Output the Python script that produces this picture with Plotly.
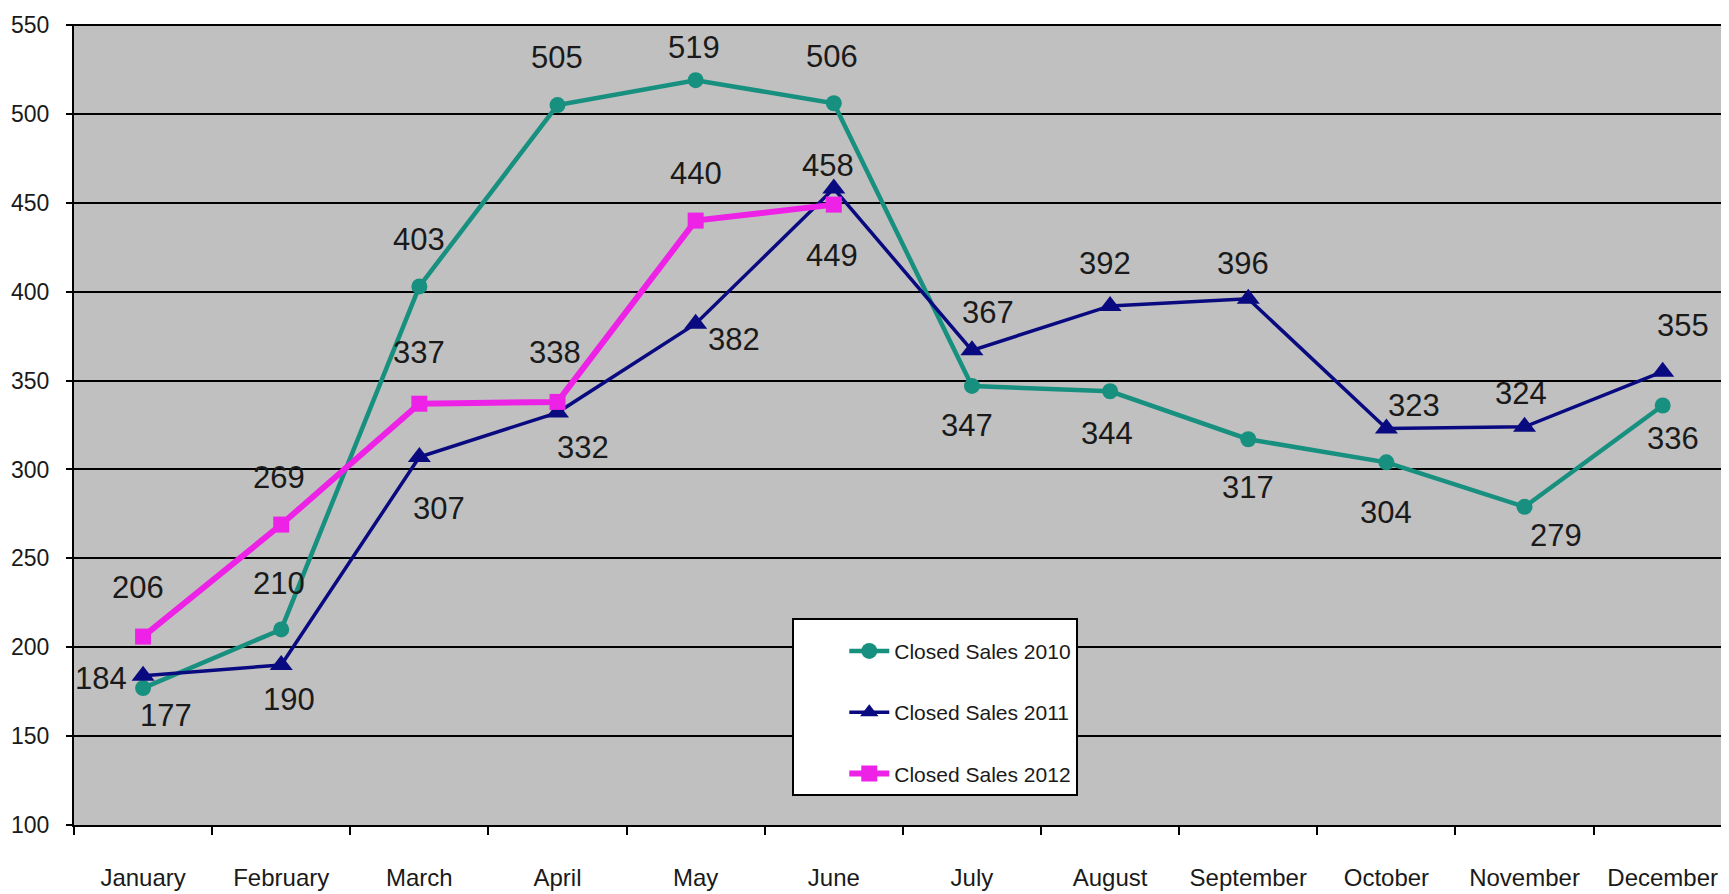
import plotly.graph_objects as go

months = ["January", "February", "March", "April", "May", "June", "July",
          "August", "September", "October", "November", "December"]
sales_2010 = [177, 210, 403, 505, 519, 506, 347, 344, 317, 304, 279, 336]
sales_2011 = [184, 190, 307, 332, 382, 458, 367, 392, 396, 323, 324, 355]
sales_2012 = [206, 269, 337, 338, 440, 449]

names = ["Closed Sales 2010", "Closed Sales 2011", "Closed Sales 2012"]

# label offsets in pixels (dx right, dy down) per point
off_2010 = [(23, 27), (-2, -46), (0, -47), (-1, -48), (-2, -33), (-2, -47),
            (-5, 40), (-3, 42), (0, 48), (0, 50), (31, 29), (10, 33)]
off_2011 = [(-42, 3), (8, 34), (20, 51), (25, 35), (38, 16), (-6, -23),
            (16, -38), (-5, -42), (-5, -35), (28, -23), (-4, -33), (20, -46)]
off_2012 = [(-5, -49), (-2, -47), (0, -51), (-3, -49), (0, -47), (-2, 51)]

FONT = "Liberation Sans, Arial, sans-serif"

fig = go.Figure()
series = [
    (sales_2010, names[0], "#17907F", 4.5, "circle", 16, off_2010),
    (sales_2011, names[1], "#0A0A80", 3.5, "triangle-up", 20, off_2011),
    (sales_2012, names[2], "#EE22E6", 6, "square", 16, off_2012),
]
for i, (vals, name, color, lw, sym, ms, offs) in enumerate(series):
    fig.add_trace(go.Scatter(
        x=months[:len(vals)], y=vals, name=name, mode="lines+markers",
        line=dict(color=color, width=lw),
        marker=dict(symbol=sym, size=ms, color=color),
        legendgroup="g%d" % i,
    ))
    for m, v, (dx, dy) in zip(months, vals, offs):
        fig.add_annotation(x=m, y=v, text=str(v), showarrow=False,
                           xshift=dx, yshift=-dy,
                           font=dict(family=FONT, size=31, color="#1a1a1a"))

# the page body has an 8px margin, so the figure is offset by 8px
fig.update_layout(
    width=1721, height=886,
    margin=dict(l=66, r=0, t=16, b=69, autoexpand=False),
    paper_bgcolor="white",
    plot_bgcolor="#C0C0C0",
    showlegend=True,
    legend=dict(
        x=0.434, y=0.258, xanchor="left", yanchor="top",
        bgcolor="white", bordercolor="black", borderwidth=2,
        font=dict(family=FONT, size=21, color="#1a1a1a"),
        title=dict(text=" ", font=dict(size=8)),
        tracegroupgap=31,
        indentation=50,
        itemwidth=40,
    ),
    xaxis=dict(
        type="category", categoryorder="array", categoryarray=months,
        range=[-0.5, 11.48], automargin=False, tickangle=0,
        showgrid=False, showline=True, linecolor="black", linewidth=2,
        ticks="outside", tickson="boundaries", ticklen=8, tickcolor="black",
        tickwidth=2, ticklabelstandoff=30,
        tickfont=dict(family=FONT, size=24, color="#1a1a1a"),
    ),
    yaxis=dict(
        range=[100, 550.6], dtick=50, tick0=100, automargin=False,
        showgrid=True, gridcolor="black", gridwidth=2,
        showline=True, linecolor="black", linewidth=2,
        ticks="outside", ticklen=6, tickcolor="black", tickwidth=2,
        ticklabelstandoff=12, zeroline=False,
        tickfont=dict(family=FONT, size=23, color="#1a1a1a"),
    ),
)

fig.write_html("out.html")
